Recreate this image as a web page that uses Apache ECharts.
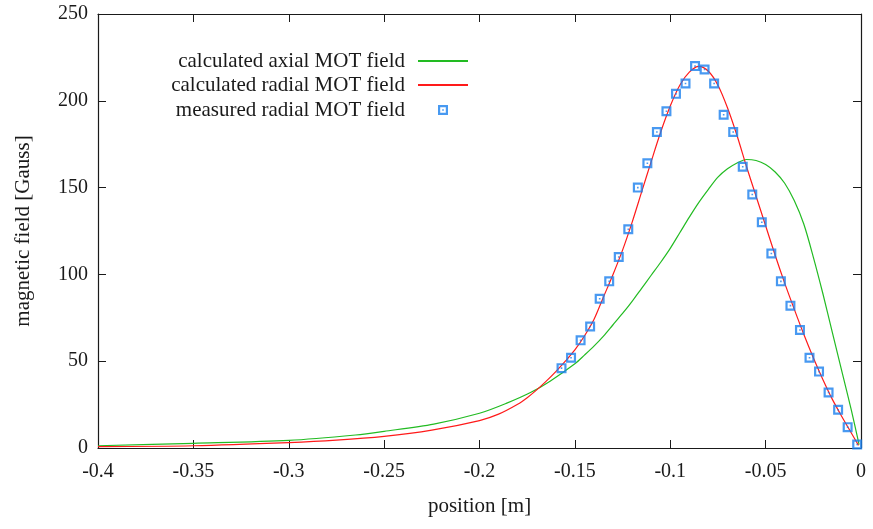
<!DOCTYPE html>
<html>
<head>
<meta charset="utf-8">
<title>MOT magnetic field profile</title>
<script src="https://cdn.jsdelivr.net/npm/echarts@6/dist/echarts.min.js"></script>
<style>
  html, body { margin: 0; padding: 0; background: #ffffff; }
  #chart { width: 873px; height: 529px; }
</style>
</head>
<body>
<div id="chart"></div>
<script>
// Calculated axial field of the MOT coils, position [m] -> field [Gauss]
const axialX = [-0.400, -0.350, -0.300, -0.265, -0.250, -0.224, -0.200, -0.186, -0.173, -0.163,
                -0.150, -0.145, -0.140, -0.135, -0.130, -0.125, -0.120, -0.115, -0.110, -0.105,
                -0.100, -0.095, -0.090, -0.085, -0.080, -0.075, -0.070, -0.065, -0.060, -0.055,
                -0.050, -0.045, -0.040, -0.035, -0.030, -0.025, -0.020, -0.015, -0.010, -0.005,
                -0.001];
const axialB = [1.3, 2.7, 4.4, 7.5, 9.6, 13.8, 20.0, 25.7, 32.1, 38.5,
                48.5, 53.5, 58.7, 64.5, 71.0, 77.5, 84.5, 92.0, 99.5, 107.0,
                115.0, 124.0, 133.0, 141.5, 149.0, 156.0, 160.8, 164.2, 166.2, 165.6,
                163.3, 159.0, 152.5, 142.5, 129.0, 110.0, 89.0, 66.5, 44.0, 21.5,
                2.0];

// Calculated radial field of the MOT coils
const radialX = [-0.400, -0.350, -0.300, -0.275, -0.250, -0.225, -0.200, -0.190, -0.180, -0.175,
                 -0.170, -0.165, -0.160, -0.155, -0.150, -0.145, -0.140, -0.135, -0.130, -0.125,
                 -0.120, -0.115, -0.110, -0.105, -0.100, -0.095, -0.090, -0.085, -0.080, -0.075,
                 -0.070, -0.065, -0.060, -0.055, -0.050, -0.045, -0.040, -0.035, -0.030, -0.025,
                 -0.020, -0.015, -0.010, -0.005, -0.0013];
const radialB = [0.8, 1.3, 3.1, 4.5, 6.7, 10.3, 15.8, 19.5, 25.2, 29.0,
                 33.5, 38.5, 44.0, 50.0, 56.5, 64.5, 74.0, 87.0, 100.0, 114.0,
                 130.0, 147.5, 165.0, 182.0, 197.0, 209.0, 216.5, 219.8, 217.0, 209.0,
                 196.0, 180.0, 162.0, 145.0, 128.0, 111.0, 95.0, 80.0, 65.5, 52.0,
                 39.5, 28.0, 18.0, 8.5, 1.5];

// Measured radial field, Hall probe readings
const measuredX = [-0.157, -0.152, -0.147, -0.142, -0.137, -0.132, -0.127, -0.122, -0.117, -0.112,
                   -0.107, -0.102, -0.097, -0.092, -0.087, -0.082, -0.077, -0.072, -0.067, -0.062,
                   -0.057, -0.052, -0.047, -0.042, -0.037, -0.032, -0.027, -0.022, -0.017, -0.012,
                   -0.007, -0.002];
const measuredB = [46, 52, 62, 70, 86, 96, 110, 126, 150, 164,
                   182, 194, 204, 210, 220, 218, 210, 192, 182, 162,
                   146, 130, 112, 96, 82, 68, 52, 44, 32, 22,
                   12, 2];

// Axis ranges and tick steps
const xRange = [-0.4, 0];
const xStep = 0.05;
const yRange = [0, 250];
const yStep = 50;

const seriesNames = ['calculated axial MOT field', 'calculated radial MOT field', 'measured radial MOT field'];
const colors = ['#22bb22', '#ff1a1a', '#1a80ee'];

const pairs = (xs, ys) => xs.map((x, i) => [x, ys[i]]);

const FONT = "'Liberation Serif', 'DejaVu Serif', serif";
const INK = '#1a1a1a';
// open square with a dot in its centre
const boxDot = 'path://M0,0H10V10H0Z M2.2,2.2V7.8H7.8V2.2Z M4.2,4.2H5.8V5.8H4.2Z';

const frameLine = { show: true, onZero: false, lineStyle: { color: INK, width: 1.2 } };
const tickIn = { show: true, inside: true, length: 8, lineStyle: { color: INK, width: 1 } };

function legendRow(name, top, right, itemHeight, hideSymbol) {
  const row = {
    data: [name],
    right: right,
    top: top,
    orient: 'horizontal',
    align: 'right',
    padding: 0,
    itemWidth: 50,
    itemHeight: itemHeight,
    selectedMode: false,
    textStyle: { fontFamily: FONT, fontSize: 21, color: INK, lineHeight: 22, padding: [0, 8, 0, 0] }
  };
  if (hideSymbol) {
    row.itemStyle = { color: 'rgba(0,0,0,0)', borderWidth: 0, opacity: 0 };
  }
  return row;
}

const chart = echarts.init(document.getElementById('chart'), null, { renderer: 'canvas' });
chart.setOption({
  animation: false,
  backgroundColor: '#ffffff',
  grid: { left: 98, right: 12, top: 14, bottom: 81, containLabel: false },
  legend: [
    legendRow(seriesNames[0], 50, 404, 14, true),
    legendRow(seriesNames[1], 74, 404, 14, true),
    legendRow(seriesNames[2], 99, 425, 10, false)
  ],
  xAxis: [
    {
      type: 'value', position: 'bottom', min: xRange[0], max: xRange[1], interval: xStep,
      name: 'position [m]', nameLocation: 'middle', nameGap: 48,
      nameTextStyle: { fontFamily: FONT, fontSize: 21, color: INK },
      axisLine: frameLine, axisTick: tickIn,
      axisLabel: { fontFamily: FONT, fontSize: 20, color: INK, margin: 14 },
      splitLine: { show: false }
    },
    {
      type: 'value', position: 'top', min: xRange[0], max: xRange[1], interval: xStep,
      axisLine: frameLine, axisTick: tickIn, axisLabel: { show: false }, splitLine: { show: false }
    }
  ],
  yAxis: [
    {
      type: 'value', position: 'left', min: yRange[0], max: yRange[1], interval: yStep,
      name: 'magnetic field [Gauss]', nameLocation: 'middle', nameGap: 64,
      nameTextStyle: { fontFamily: FONT, fontSize: 21, color: INK },
      axisLine: frameLine, axisTick: tickIn,
      axisLabel: { fontFamily: FONT, fontSize: 20, color: INK, margin: 10 },
      splitLine: { show: false }
    },
    {
      type: 'value', position: 'right', min: yRange[0], max: yRange[1], interval: yStep,
      axisLine: frameLine, axisTick: tickIn, axisLabel: { show: false }, splitLine: { show: false }
    }
  ],
  series: [
    {
      name: seriesNames[0], type: 'line', data: pairs(axialX, axialB),
      smooth: 0.3, symbol: 'none', color: colors[0],
      lineStyle: { color: colors[0], width: 1.2 }, z: 2
    },
    {
      name: seriesNames[1], type: 'line', data: pairs(radialX, radialB),
      smooth: 0.3, symbol: 'none', color: colors[1],
      lineStyle: { color: colors[1], width: 1.2 }, z: 3
    },
    {
      name: seriesNames[2], type: 'scatter', data: pairs(measuredX, measuredB),
      symbol: boxDot, symbolSize: 10, color: colors[2],
      itemStyle: { color: colors[2] }, z: 4
    }
  ]
});
</script>
</body>
</html>
